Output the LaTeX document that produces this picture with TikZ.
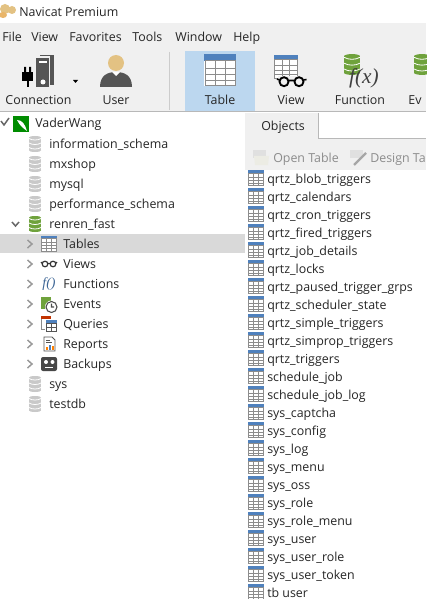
\documentclass[tikz,border=0pt]{standalone}
\usepackage{xcolor}
\usepackage{fontspec}
\setmainfont{Open Sans}
\newfontfamily\mathlike{Liberation Serif}
\usetikzlibrary{positioning,calc,arrows.meta}
\definecolor{barbg}{HTML}{F0F0F0}
\definecolor{selblue}{HTML}{BCD7EF}
\definecolor{rowsel}{HTML}{D9D9D9}
\definecolor{headblue}{HTML}{4F81BD}
\definecolor{gridgray}{HTML}{8C8C8C}
\definecolor{dbgray}{HTML}{C9C9C9}
\definecolor{dbgreen}{HTML}{6FA23C}
\definecolor{iconink}{HTML}{555555}
\definecolor{skin}{HTML}{E3C283}
\tikzset{
    lbl/.style={anchor=base west,inner sep=0pt,font=\fontsize{9.3pt}{11pt}\selectfont,text=black!85},
    btnlbl/.style={anchor=base,inner sep=0pt,font=\fontsize{9.3pt}{11pt}\selectfont,text=black!85},
    chev/.style={draw=black!40,line width=1.1pt},
    % small table of the lists, drawn round its centre
    tableicon/.pic={
        \fill[white] (-8,-8) rectangle (8,8);
        \fill[headblue] (-8,-8) rectangle (8,-4.5);
        \draw[gridgray,line width=0.5pt] (-7.5,-5) rectangle (7.5,7.5);
        \foreach \u in {-2.5,2.5} {\draw[gridgray,line width=0.4pt] (\u,-5) -- (\u,7.5);}
        \foreach \v in {-1,2,5} {\draw[gridgray,line width=0.4pt] (-7.5,\v) -- (7.5,\v);}
    },
    % database drum of the tree
    dbicon/.pic={
        \fill[pic actions] (-6,-6.5) rectangle (6,6.5);
        \fill[pic actions] (0,-6.5) ellipse (6 and 1.5);
        \fill[pic actions] (0,6.5) ellipse (6 and 1.5);
        \foreach \v in {-5.5,-1,3.5} {
            \draw[white,line width=0.6pt] (-6,\v) .. controls (-3,{\v+2}) and (3,{\v+2}) .. (6,\v);
        }
    },
}
\begin{document}
\begin{tikzpicture}[x=0.75pt,y=-0.75pt]
    \useasboundingbox (0,0) rectangle (426,599);
    \fill[white] (0,0) rectangle (426,599);

    % Title bar
    \fill[skin] (5,9) circle (5) (12,10) ellipse (4 and 4);
    \fill[skin!80!orange] (3,15) ellipse (4 and 3);
    \node[lbl] (title) at (19,17) {Navicat Premium};

    % Menu and tool bar
    \fill[barbg] (0,23) rectangle (426,111);
    \draw[black!28,line width=0.75pt] (0,112) -- (426,112);
    \node[lbl] (menufile) at (2,42) {File};
    \node[lbl] (menuview) at (31,42) {View};
    \node[lbl] (menufav) at (69,42) {Favorites};
    \node[lbl] (menutools) at (132,42) {Tools};
    \node[lbl] (menuwin) at (175,42) {Window};
    \node[lbl] (menuhelp) at (233,42) {Help};

    \draw[black!20,line width=0.75pt] (169,52) -- (169,110);
    \fill[selblue] (185,51) rectangle (255,111);

    % Connection icon
    \fill[iconink] (36,58) rectangle (49,87);
    \fill[iconink] (50,55) rectangle (54,85);
    \fill[iconink] (40,55) rectangle (54,56.5);
    \fill[white] (39,61) rectangle (47,63);
    \fill[white] (43,82) circle (2.5);
    \fill[black] (22,72) rectangle (33,81);
    \fill[black] (24,67) rectangle (26,72) (29,67) rectangle (31,72);
    \fill[black] (26.5,81) rectangle (28.5,87);
    \fill[black] (73,80) -- (78,80) -- (75.5,83) -- cycle;
    % User icon
    \fill[iconink] (100,87) .. controls (100,75) and (108,72) .. (116,72) .. controls (124,72) and (132,75) .. (132,87) -- cycle;
    \fill[white] (112,72) -- (120,72) -- (116,76) -- cycle;
    \fill[skin] (116,63) circle (8);
    % Table icon
    \pic[scale=2] at (220,70.5) {tableicon};
    % View icon
    \pic[scale=1.5] at (286,67) {tableicon};
    \fill[barbg] (278,76) rectangle (307,87);
    \draw[black,line width=1.4pt] (284,81.7) circle (4.5) (299,81.7) circle (4.5);
    \draw[black,line width=1.2pt] (288.5,80.5) -- (294.5,80.5) (303.5,80) -- (306.5,79.5) (279.5,80) -- (277,79);
    % Function icon
    \pic[scale=1.3,fill=dbgreen] at (352,64.5) {dbicon};
    \node[anchor=center,inner sep=0pt,font=\fontsize{16pt}{16pt}\mathlike\itshape,text=black!75] (fxmark) at (364,78) {f(x)};
    % Events icon, cut off by the edge
    \pic[scale=1.3,fill=dbgreen] at (422,64.5) {dbicon};

    \node[btnlbl] (btnconn) at (38.5,105) {Connection};
    \node[btnlbl] (btnuser) at (116,105) {User};
    \node[btnlbl] (btntable) at (220,105) {Table};
    \node[btnlbl] (btnview) at (291,105) {View};
    \node[btnlbl] (btnfunc) at (360,105) {Function};
    \node[btnlbl] (btnev) at (415,105) {Ev};

    % Objects tab and its tool bar
    \fill[barbg] (245,113) rectangle (426,170);
    \fill[white] (319,113) rectangle (426,139);
    \draw[black!28,line width=0.75pt] (318.5,113) -- (318.5,139) -- (426,139);
    \node[lbl] (tabobjects) at (261,131) {Objects};
    \fill[black!12] (253,150) rectangle (266,158);
    \fill[yellow!30!black!12] (254,156) -- (269,156) -- (268,165) -- (255,165) -- cycle;
    \node[lbl,text=black!45] (btnopen) at (273,162) {Open Table};
    \fill[black!12] (350,150) rectangle (363,158);
    \draw[black!35,line width=1.6pt] (354,165) -- (366,153);
    \node[lbl,text=black!45] (btndesign) at (370,162) {Design Ta};

    % Connection tree
    \fill[rowsel] (0,234) rectangle (245,253);
    \draw[black!60,line width=1.1pt] (1,121) -- (4,125) -- (9,118);
    \fill[green!55!black] (13,116) rectangle (29,132);
    \fill[white] (17,120) .. controls (22,120) and (25,124) .. (27,131) .. controls (23,128) and (20,126) .. (17,120) -- cycle;
    \node[lbl] (connvader) at (35,128) {VaderWang};
    \foreach \name/\row in {information\_schema/0,mxshop/1,mysql/2,performance\_schema/3,sys/12,testdb/13} {
        \pic[fill=dbgray] at (35,{144+20*\row}) {dbicon};
        \node[lbl] (db\row) at (49,{148+20*\row}) {\name};
    }
    \draw[black!60,line width=1.1pt] (12,222) -- (15.5,226) -- (19,222);
    \pic[fill=dbgreen] at (35,224) {dbicon};
    \node[lbl] (dbrenren) at (49,228) {renren\_fast};
    \foreach \name/\row in {Tables/0,Views/1,Functions/2,Events/3,Queries/4,Reports/5,Backups/6} {
        \draw[chev] (27.5,{240+20*\row}) -- (32,{244+20*\row}) -- (27.5,{248+20*\row});
        \node[lbl] (group\row) at (63,{248+20*\row}) {\name};
    }
    \pic at (49,243.5) {tableicon};
    % Views icon
    \draw[black!80,line width=0.9pt] (45,264) circle (2.8) (53,264) circle (2.8);
    \draw[black!80,line width=0.8pt] (47.8,263.5) -- (50.2,263.5) (41,262) -- (42.2,263.5) (55.8,263.5) -- (57,262);
    % Functions icon
    \node[anchor=center,inner sep=0pt,font=\fontsize{10.5pt}{10.5pt}\mathlike\itshape,text=headblue!80!black] (fnmark) at (49,284) {f()};
    % Events icon
    \fill[dbgreen] (41,297) rectangle (51,309);
    \fill[white] (51.5,307) circle (6.5);
    \draw[black!70,line width=0.8pt] (51.5,307) circle (5.5) (51.5,303.5) -- (51.5,307) -- (54,307);
    % Queries icon
    \fill[red!60!black!60!orange] (41,316) rectangle (51,319);
    \draw[gridgray,line width=0.5pt] (41.5,319) -- (41.5,329) -- (45,329);
    \fill[white] (46,320) rectangle (57,331);
    \fill[headblue] (46,320) rectangle (57,323);
    \draw[iconink,line width=0.5pt] (46.5,323) rectangle (56.5,331) (51.5,323) -- (51.5,331) (46.5,327) -- (56.5,327);
    % Reports icon
    \draw[iconink,line width=0.6pt] (44,337) -- (52,337) -- (55,340) -- (55,351) -- (44,351) -- cycle;
    \draw[iconink,line width=0.5pt] (46,340) -- (50,340) (46,342) -- (52,342);
    \fill[orange] (46,347) rectangle (47.5,349.5);
    \fill[headblue] (49,344.5) rectangle (50.5,349.5);
    \fill[orange] (52,346) rectangle (53.5,349.5);
    % Backups icon
    \fill[black!72,rounded corners=1.5pt] (41,357) rectangle (57,371);
    \fill[white] (46,362) circle (2) (52.5,362) circle (2);
    \fill[white] (45,367) rectangle (53,368);

    % Table list
    \foreach \name [count=\row from 0] in {qrtz\_blob\_triggers,qrtz\_calendars,qrtz\_cron\_triggers,qrtz\_fired\_triggers,qrtz\_job\_details,qrtz\_locks,qrtz\_paused\_trigger\_grps,qrtz\_scheduler\_state,qrtz\_simple\_triggers,qrtz\_simprop\_triggers,qrtz\_triggers,schedule\_job,schedule\_job\_log,sys\_captcha,sys\_config,sys\_log,sys\_menu,sys\_oss,sys\_role,sys\_role\_menu,sys\_user,sys\_user\_role,sys\_user\_token,tb user} {
        \pic at (256,{178+18*\row}) {tableicon};
        \node[lbl] (tbl\row) at (267,{183+18*\row}) {\name};
    }
\end{tikzpicture}
\end{document}
